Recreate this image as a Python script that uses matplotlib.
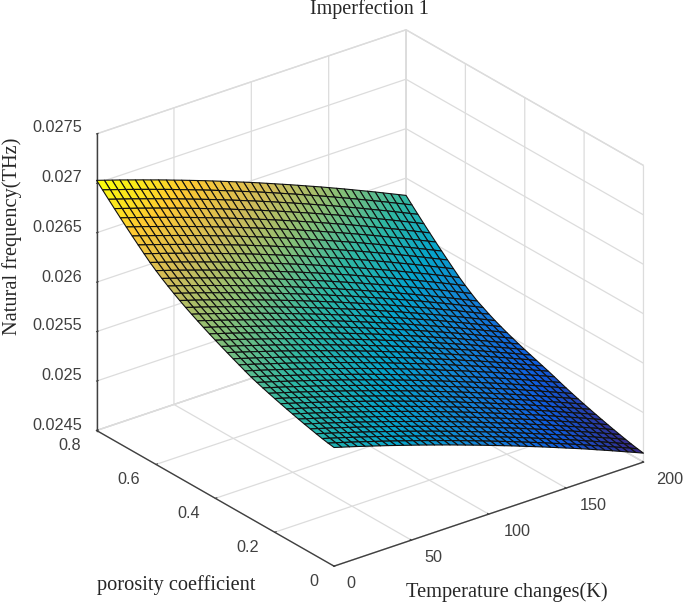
import numpy as np
import matplotlib
matplotlib.use('Agg')
import matplotlib.pyplot as plt
from matplotlib.colors import LinearSegmentedColormap

# Temperature change (K) and porosity coefficient of the surface grid
temperature = [0, 5, 10, 15, 20, 25, 30, 35, 40, 45, 50, 55, 60, 65, 70, 75, 80, 85, 90, 95, 100,
               105, 110, 115, 120, 125, 130, 135, 140, 145, 150, 155, 160, 165, 170, 175, 180,
               185, 190, 195, 200]
porosity = [0.8, 0.78, 0.76, 0.74, 0.72, 0.7, 0.68, 0.66, 0.64, 0.62, 0.6, 0.58, 0.56, 0.54,
            0.52, 0.5, 0.48, 0.46, 0.44, 0.42, 0.4, 0.38, 0.36, 0.34, 0.32, 0.3, 0.28, 0.26,
            0.24, 0.22, 0.2, 0.18, 0.16, 0.14, 0.12, 0.1, 0.08, 0.06, 0.04, 0.02, 0.0]

# Natural frequency, in 1e-6 THz (rows follow porosity)
freq_table = [
    [27030,27005,26980,26955,26929,26903,26877,26850,26824,26797,26769,26742,26714,26686,26658,26629,26600,26571,26541,26512,26482,26452,26421,26390,26359,26328,26296,26264,26232,26200,26167,26134,26101,26067,26033,25999,25965,25930,25895,25860,25825],
    [26968,26943,26918,26893,26867,26841,26815,26788,26762,26735,26707,26680,26652,26624,26596,26567,26538,26509,26479,26450,26420,26390,26359,26328,26297,26266,26234,26202,26170,26138,26105,26072,26039,26005,25971,25937,25903,25868,25833,25798,25763],
    [26907,26882,26857,26832,26806,26780,26754,26727,26701,26674,26646,26619,26591,26563,26535,26506,26477,26448,26418,26389,26359,26329,26298,26267,26236,26205,26173,26141,26109,26077,26044,26011,25978,25944,25910,25876,25842,25807,25772,25737,25702],
    [26847,26822,26797,26772,26746,26720,26694,26667,26641,26614,26586,26559,26531,26503,26475,26446,26417,26388,26358,26329,26299,26269,26238,26207,26176,26145,26113,26081,26049,26017,25984,25951,25918,25884,25850,25816,25782,25747,25712,25677,25642],
    [26788,26763,26738,26713,26687,26661,26635,26608,26582,26555,26527,26500,26472,26444,26416,26387,26358,26329,26299,26270,26240,26210,26179,26148,26117,26086,26054,26022,25990,25958,25925,25892,25859,25825,25791,25757,25723,25688,25653,25618,25583],
    [26730,26705,26680,26655,26629,26603,26577,26550,26524,26497,26469,26442,26414,26386,26358,26329,26300,26271,26241,26212,26182,26152,26121,26090,26059,26028,25996,25964,25932,25900,25867,25834,25801,25767,25733,25699,25665,25630,25595,25560,25525],
    [26673,26648,26623,26598,26572,26546,26520,26493,26467,26440,26412,26385,26357,26329,26301,26272,26243,26214,26184,26155,26125,26095,26064,26033,26002,25971,25939,25907,25875,25843,25810,25777,25744,25710,25676,25642,25608,25573,25538,25503,25468],
    [26617,26592,26567,26542,26516,26490,26464,26437,26411,26384,26356,26329,26301,26273,26245,26216,26187,26158,26128,26099,26069,26039,26008,25977,25946,25915,25883,25851,25819,25787,25754,25721,25688,25654,25620,25586,25552,25517,25482,25447,25412],
    [26562,26537,26512,26487,26461,26435,26409,26382,26356,26329,26301,26274,26246,26218,26190,26161,26132,26103,26073,26044,26014,25984,25953,25922,25891,25860,25828,25796,25764,25732,25699,25666,25633,25599,25565,25531,25497,25462,25427,25392,25357],
    [26508,26483,26458,26433,26407,26381,26355,26328,26302,26275,26247,26220,26192,26164,26136,26107,26078,26049,26019,25990,25960,25930,25899,25868,25837,25806,25774,25742,25710,25678,25645,25612,25579,25545,25511,25477,25443,25408,25373,25338,25303],
    [26460,26435,26410,26385,26359,26333,26307,26280,26254,26227,26199,26172,26144,26116,26088,26059,26030,26001,25971,25942,25912,25882,25851,25820,25789,25758,25726,25694,25662,25630,25597,25564,25531,25497,25463,25429,25395,25360,25325,25290,25255],
    [26415,26390,26365,26340,26314,26288,26262,26235,26209,26182,26154,26127,26099,26071,26043,26014,25985,25956,25926,25897,25867,25837,25806,25775,25744,25713,25681,25649,25617,25585,25552,25519,25486,25452,25418,25384,25350,25315,25280,25245,25210],
    [26373,26348,26323,26298,26272,26246,26220,26193,26167,26140,26112,26085,26057,26029,26001,25972,25943,25914,25884,25855,25825,25795,25764,25733,25702,25671,25639,25607,25575,25543,25510,25477,25444,25410,25376,25342,25308,25273,25238,25203,25168],
    [26333,26308,26283,26259,26233,26207,26181,26155,26128,26101,26074,26047,26019,25991,25963,25935,25906,25877,25848,25819,25788,25758,25728,25698,25667,25635,25604,25573,25540,25508,25476,25443,25411,25377,25343,25310,25275,25241,25206,25172,25136],
    [26295,26270,26246,26221,26195,26169,26144,26118,26091,26064,26037,26010,25983,25955,25927,25899,25870,25841,25812,25783,25753,25723,25693,25662,25631,25600,25569,25538,25506,25474,25441,25409,25377,25343,25309,25276,25242,25207,25173,25138,25103],
    [26259,26234,26210,26185,26160,26134,26108,26083,26056,26029,26003,25976,25948,25920,25893,25865,25836,25807,25778,25749,25719,25690,25660,25630,25599,25568,25537,25506,25474,25442,25410,25377,25345,25312,25278,25245,25211,25177,25142,25108,25073],
    [26225,26201,26176,26152,26126,26101,26075,26050,26023,25997,25970,25944,25916,25888,25861,25833,25804,25776,25747,25718,25689,25659,25629,25599,25569,25538,25507,25476,25444,25412,25381,25349,25317,25284,25250,25217,25183,25149,25115,25081,25046],
    [26192,26168,26143,26119,26094,26068,26043,26018,25991,25965,25939,25912,25885,25857,25830,25802,25774,25745,25717,25688,25659,25629,25600,25570,25539,25509,25478,25448,25416,25384,25353,25321,25289,25256,25223,25190,25156,25122,25089,25055,25020],
    [26160,26136,26112,26088,26062,26037,26012,25987,25961,25935,25908,25882,25855,25828,25800,25773,25745,25716,25688,25660,25630,25601,25572,25542,25512,25482,25451,25421,25389,25358,25326,25295,25263,25231,25197,25165,25131,25098,25064,25031,24996],
    [26129,26105,26081,26057,26032,26007,25982,25957,25931,25905,25879,25853,25826,25799,25772,25745,25717,25688,25660,25632,25603,25574,25545,25516,25485,25455,25425,25395,25364,25332,25301,25270,25239,25206,25173,25141,25107,25074,25041,25007,24973],
    [26099,26075,26051,26028,26003,25978,25953,25928,25903,25877,25851,25825,25798,25771,25744,25717,25689,25662,25634,25606,25577,25548,25519,25490,25460,25430,25400,25370,25339,25308,25277,25246,25215,25183,25150,25118,25084,25051,25018,24985,24951],
    [26070,26046,26023,25999,25974,25950,25925,25901,25875,25849,25824,25798,25771,25744,25718,25691,25663,25636,25608,25580,25551,25523,25494,25465,25435,25406,25376,25346,25315,25284,25254,25223,25192,25160,25127,25095,25062,25030,24997,24964,24930],
    [26042,26019,25995,25972,25947,25923,25898,25874,25848,25823,25797,25772,25745,25719,25692,25666,25638,25611,25583,25556,25527,25498,25470,25441,25412,25382,25353,25323,25292,25262,25231,25201,25170,25138,25106,25074,25042,25009,24976,24944,24910],
    [26014,25991,25967,25944,25920,25895,25871,25847,25821,25796,25771,25745,25719,25693,25666,25640,25613,25585,25558,25531,25502,25474,25445,25417,25388,25358,25329,25299,25269,25239,25208,25178,25147,25116,25084,25052,25020,24987,24955,24922,24889],
    [25987,25964,25941,25917,25893,25869,25845,25821,25796,25770,25745,25720,25694,25668,25642,25615,25588,25561,25534,25507,25478,25450,25422,25394,25365,25335,25306,25277,25247,25216,25186,25156,25126,25095,25062,25031,24999,24967,24934,24902,24869],
    [25960,25937,25914,25891,25867,25843,25819,25795,25769,25744,25719,25694,25668,25642,25616,25590,25563,25536,25509,25482,25454,25426,25398,25370,25340,25311,25282,25253,25223,25193,25163,25133,25103,25072,25040,25008,24976,24944,24912,24880,24847],
    [25934,25911,25888,25865,25841,25817,25793,25769,25744,25719,25694,25669,25643,25617,25591,25565,25538,25511,25484,25457,25429,25401,25373,25345,25316,25287,25258,25229,25199,25169,25139,25109,25079,25048,25016,24985,24953,24921,24889,24857,24824],
    [25912,25889,25866,25843,25819,25795,25771,25747,25722,25697,25672,25647,25621,25595,25569,25543,25516,25489,25462,25435,25407,25379,25351,25323,25294,25265,25236,25207,25177,25147,25117,25087,25057,25026,24994,24963,24931,24899,24867,24835,24802],
    [25891,25868,25845,25822,25798,25774,25750,25726,25701,25676,25651,25626,25600,25574,25548,25522,25495,25468,25441,25414,25386,25358,25330,25302,25273,25244,25215,25186,25156,25126,25096,25066,25036,25005,24973,24942,24910,24878,24846,24814,24781],
    [25871,25848,25825,25802,25778,25754,25730,25706,25681,25656,25631,25606,25580,25554,25528,25502,25475,25448,25421,25394,25366,25338,25310,25282,25253,25224,25195,25166,25136,25106,25076,25046,25016,24985,24953,24922,24890,24858,24826,24794,24761],
    [25852,25829,25806,25783,25759,25735,25711,25687,25662,25637,25612,25587,25561,25535,25509,25483,25456,25429,25402,25375,25347,25319,25291,25263,25234,25205,25176,25147,25117,25087,25057,25027,24997,24966,24934,24903,24871,24839,24807,24775,24742],
    [25834,25811,25788,25765,25741,25717,25693,25669,25644,25619,25594,25569,25543,25517,25491,25465,25438,25411,25384,25357,25329,25301,25273,25245,25216,25187,25158,25129,25099,25069,25039,25009,24979,24948,24916,24885,24853,24821,24789,24757,24724],
    [25816,25793,25770,25747,25723,25699,25675,25651,25626,25601,25576,25551,25525,25499,25473,25447,25420,25393,25366,25339,25311,25283,25255,25227,25198,25169,25140,25111,25081,25051,25021,24991,24961,24930,24898,24867,24835,24803,24771,24739,24706],
    [25799,25776,25753,25730,25706,25682,25658,25634,25609,25584,25559,25534,25508,25482,25456,25430,25403,25376,25349,25322,25294,25266,25238,25210,25181,25152,25123,25094,25064,25034,25004,24974,24944,24913,24881,24850,24818,24786,24754,24722,24689],
    [25782,25759,25736,25713,25689,25665,25641,25617,25592,25567,25542,25517,25491,25465,25439,25413,25386,25359,25332,25305,25277,25249,25221,25193,25164,25135,25106,25077,25047,25017,24987,24957,24927,24896,24864,24833,24801,24769,24737,24705,24672],
    [25766,25743,25720,25697,25673,25649,25625,25601,25576,25551,25526,25501,25475,25449,25423,25397,25370,25343,25316,25289,25261,25233,25205,25177,25148,25119,25090,25061,25031,25001,24971,24941,24911,24880,24848,24817,24785,24753,24721,24689,24656],
    [25751,25728,25705,25682,25658,25634,25610,25586,25561,25536,25511,25486,25460,25434,25408,25382,25355,25328,25301,25274,25246,25218,25190,25162,25133,25104,25075,25046,25016,24986,24956,24926,24896,24865,24833,24802,24770,24738,24706,24674,24641],
    [25736,25713,25690,25667,25643,25619,25595,25571,25546,25521,25496,25471,25445,25419,25393,25367,25340,25313,25286,25259,25231,25203,25175,25147,25118,25089,25060,25031,25001,24971,24941,24911,24881,24850,24818,24787,24755,24723,24691,24659,24626],
    [25722,25699,25676,25653,25629,25605,25581,25557,25532,25507,25482,25457,25431,25405,25379,25353,25326,25299,25272,25245,25217,25189,25161,25133,25104,25075,25046,25017,24987,24957,24927,24897,24867,24836,24804,24773,24741,24709,24677,24645,24612],
    [25710,25687,25664,25641,25617,25593,25569,25545,25520,25495,25470,25445,25419,25393,25367,25341,25314,25287,25260,25233,25205,25177,25149,25121,25092,25063,25034,25005,24975,24945,24915,24885,24855,24824,24792,24761,24729,24697,24665,24633,24600],
    [25700,25677,25654,25631,25607,25583,25559,25535,25510,25485,25460,25435,25409,25383,25357,25331,25304,25277,25250,25223,25195,25167,25139,25111,25082,25053,25024,24995,24965,24935,24905,24875,24845,24814,24782,24751,24719,24687,24655,24623,24590],
]

x_ticks = [0, 50, 100, 150, 200]
y_ticks = [0, 0.2, 0.4, 0.6, 0.8]
z_ticks = [0.0245, 0.025, 0.0255, 0.026, 0.0265, 0.027, 0.0275]
x_labels = ['0', '50', '100', '150', '200']
y_labels = ['0', '0.2', '0.4', '0.6', '0.8']
z_labels = ['0.0245', '0.025', '0.0255', '0.026', '0.0265', '0.027', '0.0275']

parula_colors = ['#352a87', '#0f5cdd', '#1481d6', '#06a4ca', '#2eb7a4',
                 '#87bf77', '#d1bb59', '#fec832', '#f9fb0e']

plt.rcParams['grid.color'] = '#dcdcdc'
plt.rcParams['grid.linewidth'] = 0.9

W, H = 685, 604
fig = plt.figure(figsize=(W / 100, H / 100), dpi=100)
ax = fig.add_subplot(projection='3d', proj_type='ortho')
ax.set_position([49.6 / W, -14.4 / H, 624 / W, 624 / H])
ax.set_box_aspect((390, 390, 330))
ax.view_init(elev=26, azim=-127.5)

T, P = np.meshgrid(temperature, porosity)
Z = np.array(freq_table) * 1e-6
parula = LinearSegmentedColormap.from_list('parula', parula_colors)
ax.plot_surface(T, P, Z, cmap=parula, rstride=1, cstride=1, shade=False,
                edgecolor='#101010', linewidth=0.8, antialiased=True)

ax.set_xlim(0, 200, view_margin=0)
ax.set_ylim(0, 0.8, view_margin=0)
ax.set_zlim(0.0245, 0.0275, view_margin=0)
ax.set_xticks(x_ticks, [''] * len(x_ticks))
ax.set_yticks(y_ticks, [''] * len(y_ticks))
ax.set_zticks(z_ticks, [''] * len(z_ticks))

for axis in (ax.xaxis, ax.yaxis, ax.zaxis):
    axis.set_pane_color('white')
    axis.pane.set_edgecolor('#dcdcdc')
    axis.line.set_color('#404040')
    axis.line.set_linewidth(1.0)
    axis._axinfo['tick']['inward_factor'] = 0.0
    axis._axinfo['tick']['outward_factor'] = 0.06
ax.tick_params(axis='both', color='#404040')


# positions in pixels of the reference picture
def put(x, y, text, **kw):
    fig.text(x / W, 1 - y / H, text, va='center', **kw)


x_label_pos = [(351, 584), (433, 557), (517, 532), (593, 506), (670, 480)]
y_label_pos = [(314, 581), (248, 547), (189, 513), (129, 479), (70, 446)]
z_label_y = [425, 375, 325, 277, 228, 177, 128]
tick_font = dict(family='Liberation Sans', fontsize=11.7, color='#404040')
for (px, py), s in zip(x_label_pos, x_labels):
    put(px, py, s, ha='center', **tick_font)
for (px, py), s in zip(y_label_pos, y_labels):
    put(px, py, s, ha='center', **tick_font)
for py, s in zip(z_label_y, z_labels):
    put(82, py, s, ha='right', **tick_font)

title_font = dict(family='Liberation Serif', color='#262626', ha='center')
put(369, 9, 'Imperfection 1', fontsize=14.5, **title_font)
put(507, 592, 'Temperature changes(K)', fontsize=14.7, **title_font)
put(176, 585, 'porosity coefficient', fontsize=14.7, **title_font)
put(12, 236, 'Natural frequency(THz)', fontsize=14.7, rotation=90, **title_font)

plt.savefig('out.png', dpi=100)
